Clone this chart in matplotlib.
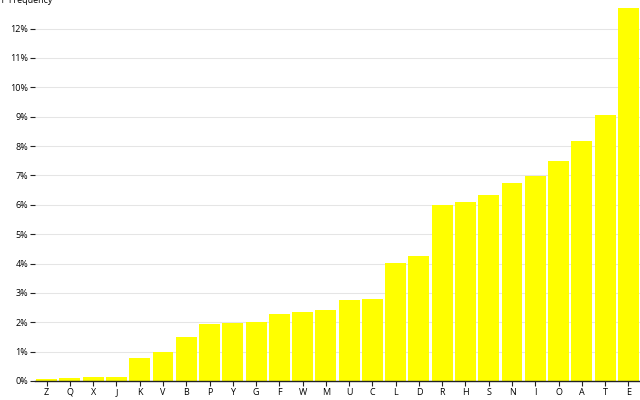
import matplotlib
matplotlib.use('Agg')
import matplotlib.pyplot as plt
from matplotlib.ticker import FuncFormatter

plt.rcParams['font.family'] = ['Open Sans', 'DejaVu Sans']

# Letter frequency, sorted ascending
letters = ['Z', 'Q', 'X', 'J', 'K', 'V', 'B', 'P', 'Y', 'G', 'F', 'W', 'M',
           'U', 'C', 'L', 'D', 'R', 'H', 'S', 'N', 'I', 'O', 'A', 'T', 'E']
frequency = [0.00074, 0.00095, 0.00150, 0.00153, 0.00772, 0.00978, 0.01492,
             0.01929, 0.01974, 0.02015, 0.02288, 0.02360, 0.02406, 0.02758,
             0.02782, 0.04025, 0.04253, 0.05987, 0.06094, 0.06327, 0.06749,
             0.06966, 0.07507, 0.08167, 0.09056, 0.12702]
yticks = [i / 100 for i in range(13)]

fig = plt.figure(figsize=(6.4, 4), dpi=100)
ax = fig.add_axes([35 / 640, 19 / 400, 605 / 640, 373 / 400])

x = range(len(letters))
ax.bar(x, frequency, width=0.9, color='#ffff00')
ax.set_xlim(-0.5, len(letters) - 0.5)
ax.set_ylim(0, 0.12702)

ax.set_xticks(list(x))
ax.set_xticklabels(letters)
ax.set_yticks(yticks)
ax.yaxis.set_major_formatter(FuncFormatter(lambda v, p: f'{v * 100:.0f}%'))
ax.grid(axis='y', color='#000000', alpha=0.1, linewidth=0.8)
ax.set_axisbelow(True)

for s in ['top', 'right', 'left']:
    ax.spines[s].set_visible(False)
ax.spines['bottom'].set_color('#222222')
ax.spines['bottom'].set_linewidth(1)
ax.tick_params(axis='both', labelsize=6.5, length=3.5, width=0.8, color='#222222', pad=1.5)

fig.text(-0.002, 1 - 3 / 400, '↑ Frequency', fontsize=6.5, ha='left', va='baseline')

fig.savefig('out.png', dpi=100)
